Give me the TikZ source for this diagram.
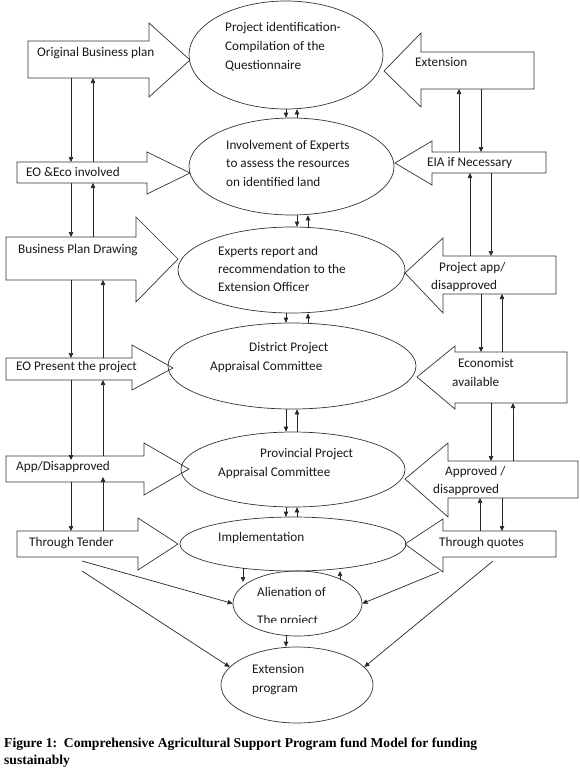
\documentclass[tikz,border=0pt]{standalone}
\usepackage{fontspec}
\setmainfont{Carlito}
\newfontfamily\capfont{Liberation Serif}
\usetikzlibrary{arrows.meta,shapes.geometric,calc}
\newcommand\rblk[9]{%
  \draw[blk] (#2,#3) -- (#5,#3) -- (#5,#6) -- (#8,#9) -- (#5,#7) -- (#5,#4) -- (#2,#4) -- cycle;
  \coordinate (#1-t) at (#2,#3);
  \coordinate (#1-b) at (#2,#4);}
\begin{document}
\begin{tikzpicture}[x=1pt,y=-1pt,
  blk/.style={draw=black!80, line width=0.7pt, fill=white},
  ell/.style={draw=black!80, line width=0.7pt, ellipse, inner sep=0pt},
  lab/.style={anchor=base west, inner sep=0pt, font=\fontsize{13.2}{15}\selectfont, text=black!90},
  capt/.style={anchor=base west, inner sep=0pt, font=\capfont\bfseries\fontsize{13.6}{15}\selectfont},
  arr/.style={draw=black!85, line width=0.7pt, -{Triangle[length=5pt,width=4.5pt]}},
]
\useasboundingbox (0,0) rectangle (580,772);

% ---------- left block arrows (pointing right)
\rblk{orig}{28}{41}{78}{149}{23}{97}{190}{60}
\rblk{eoe}{17}{162}{183}{147}{152}{194}{190}{173}
\rblk{bpd}{6}{237}{280}{136}{217}{302}{178}{259}
\rblk{eop}{6}{358}{380}{132}{345}{390}{173}{368}
\rblk{appd}{6}{456}{482}{144}{443}{495}{189}{469}
\rblk{tender}{17}{531}{557}{138}{518}{570}{178}{544}

% ---------- right block arrows (pointing left)
\rblk{ext}{534}{52}{89}{421}{33}{107}{384}{71}
\rblk{eia}{546}{152}{173}{432}{141}{185}{395}{163}
\rblk{papp}{556}{256}{294}{443}{238}{313}{405}{273}
\rblk{econ}{567}{352}{403}{455}{346}{409}{417}{377}
\rblk{appr}{578}{461}{498}{448}{443}{517}{405}{479}
\rblk{quotes}{556}{531}{557}{443}{519}{572}{405}{544}

% ---------- ellipses
\node[ell, minimum width=194pt, minimum height=108pt] (e1) at (286,55) {};
\node[ell, minimum width=205pt, minimum height=97pt] (e2) at (291.5,166.5) {};
\node[ell, minimum width=227pt, minimum height=86pt] (e3) at (291.5,270) {};
\node[ell, minimum width=248pt, minimum height=86pt] (e4) at (292,366) {};
\node[ell, minimum width=224pt, minimum height=75pt] (e5) at (293,469.5) {};
\node[ell, minimum width=226pt, minimum height=54pt] (e6) at (293,544) {};
\node[ell, minimum width=129pt, minimum height=65pt] (e7) at (297.5,603.5) {};
\node[ell, minimum width=152pt, minimum height=76pt] (e8) at (297,685) {};

% ---------- texts in block arrows
\node[lab] (torig) at (37,56) {Original Business plan};
\node[lab] (teoe) at (26,176) {EO \&Eco involved};
\node[lab] (tbpd) at (18,253) {Business Plan Drawing};
\node[lab] (teop) at (16,370) {EO Present the project};
\node[lab] (tappd) at (16,470) {App/Disapproved};
\node[lab] (ttender) at (29,546) {Through Tender};
\node[lab] (text) at (415,66) {Extension};
\node[lab] (teia) at (427,166) {EIA if Necessary};
\node[lab] (tpapp1) at (439,271) {Project app/};
\node[lab] (tpapp2) at (431,289) {disapproved};
\node[lab] (tecon1) at (458,367) {Economist};
\node[lab] (tecon2) at (452,386) {available};
\node[lab] (tappr1) at (445,475) {Approved /};
\node[lab] (tappr2) at (433,493) {disapproved};
\node[lab] (tquotes) at (439,546) {Through quotes};

% ---------- texts in ellipses
\node[lab] (e1a) at (225,31) {Project identification-};
\node[lab] (e1b) at (225,50) {Compilation of the};
\node[lab] (e1c) at (225,69) {Questionnaire};
\node[lab] (e2a) at (226,149) {Involvement of Experts};
\node[lab] (e2b) at (226,167) {to assess the resources};
\node[lab] (e2c) at (226,186) {on identified land};
\node[lab] (e3a) at (218,255) {Experts report and};
\node[lab] (e3b) at (218,273) {recommendation to the};
\node[lab] (e3c) at (218,291) {Extension Officer};
\node[lab] (e4a) at (249,351) {District Project};
\node[lab] (e4b) at (210,370) {Appraisal Committee};
\node[lab] (e5a) at (260,457) {Provincial Project};
\node[lab] (e5b) at (218,476) {Appraisal Committee};
\node[lab] (e6a) at (218,541) {Implementation};
\node[lab] (e7a) at (257,596) {Alienation of};
\begin{scope}
  \clip (200,560) rectangle (400,622);
  \node[lab] (e7b) at (257,624.5) {The project};
\end{scope}
\node[lab] (e8a) at (252,673) {Extension};
\node[lab] (e8b) at (252,692) {program};

% ---------- x positions of connectors
\coordinate (x71) at (71,0);   \coordinate (x93) at (93,0);   \coordinate (x103) at (103,0);
\coordinate (x286) at (286,0); \coordinate (x297) at (297,0); \coordinate (x308) at (308,0);
\coordinate (x459) at (459,0); \coordinate (x470) at (470,0); \coordinate (x480) at (480,0);
\coordinate (x481) at (481,0); \coordinate (x491) at (491,0); \coordinate (x502) at (502,0);
\coordinate (x513) at (513,0);

% ---------- left column connectors
\draw[arr] (orig-b -| x71) -- (eoe-t -| x71);
\draw[arr] (eoe-t -| x93) -- (orig-b -| x93);
\draw[arr] (eoe-b -| x71) -- (bpd-t -| x71);
\draw[arr] (bpd-t -| x93) -- (eoe-b -| x93);
\draw[arr] (bpd-b -| x71) -- (eop-t -| x71);
\draw[arr] (eop-t -| x103) -- (bpd-b -| x103);
\draw[arr] (eop-b -| x71) -- ($(appd-t -| x71)+(0,4)$);
\draw[arr] (appd-t -| x103) -- (eop-b -| x103);
\draw[arr] (appd-b -| x71) -- (tender-t -| x71);
\draw[arr] (tender-t -| x103) -- ($(appd-b -| x103)+(0,-5)$);

% ---------- right column connectors
\draw[arr] (eia-t -| x459) -- (ext-b -| x459);
\draw[arr] (ext-b -| x481) -- (eia-t -| x481);
\draw[arr] (papp-t -| x470) -- (eia-b -| x470);
\draw[arr] (eia-b -| x491) -- (papp-t -| x491);
\draw[arr] (papp-b -| x481) -- (econ-t -| x481);
\draw[arr] (econ-t -| x502) -- (papp-b -| x502);
\draw[arr] (econ-b -| x491) -- (appr-t -| x491);
\draw[arr] (appr-t -| x513) -- (econ-b -| x513);
\draw[arr] (quotes-t -| x480) -- (appr-b -| x480);
\draw[arr] (appr-b -| x502) -- (quotes-t -| x502);

% ---------- centre column connectors
\draw[arr] (e1.south -| x286) -- (e2.north -| x286);
\draw[arr] (e2.north -| x297) -- (e1.south -| x297);
\draw[arr] (e2.south -| x297) -- (e3.north -| x297);
\draw[arr] (e3.north -| x308) -- (e2.south -| x308);
\draw[arr] (e3.south -| x286) -- (e4.north -| x286);
\draw[arr] (e4.north -| x308) -- (e3.south -| x308);
\draw[arr] (e4.south -| x286) -- (e5.north -| x286);
\draw[arr] (e5.north -| x297) -- (e4.south -| x297);
\draw[arr] (e5.south -| x286) -- (e6.north -| x286);
\draw[arr] (e6.north -| x297) -- (e5.south -| x297);

\coordinate (i1) at (243,568); \coordinate (i2) at (243,582);
\coordinate (i3) at (340,580); \coordinate (i4) at (340,571);
\draw[arr] (i1) -- (i2);
\draw[arr] (i3) -- (i4);
\draw[arr] (e7.south -| x286) -- (e8.north -| x286);

% ---------- diagonal connectors
\coordinate (td1) at (82,561); \coordinate (td2) at (82,571);
\coordinate (qt1) at (439,572); \coordinate (qt2) at (493,561);
\draw[arr] (td1) -- (e7.west);
\draw[arr] (td2) -- (e8.165);
\draw[arr] (qt1) -- (e7.east);
\draw[arr] (qt2) -- (e8.15);

% ---------- caption
\node[capt] (cap1) at (4,747) {Figure 1:~~Comprehensive Agricultural Support Program fund Model for funding};
\node[capt] (cap2) at (4,764) {sustainably};
\end{tikzpicture}
\end{document}
